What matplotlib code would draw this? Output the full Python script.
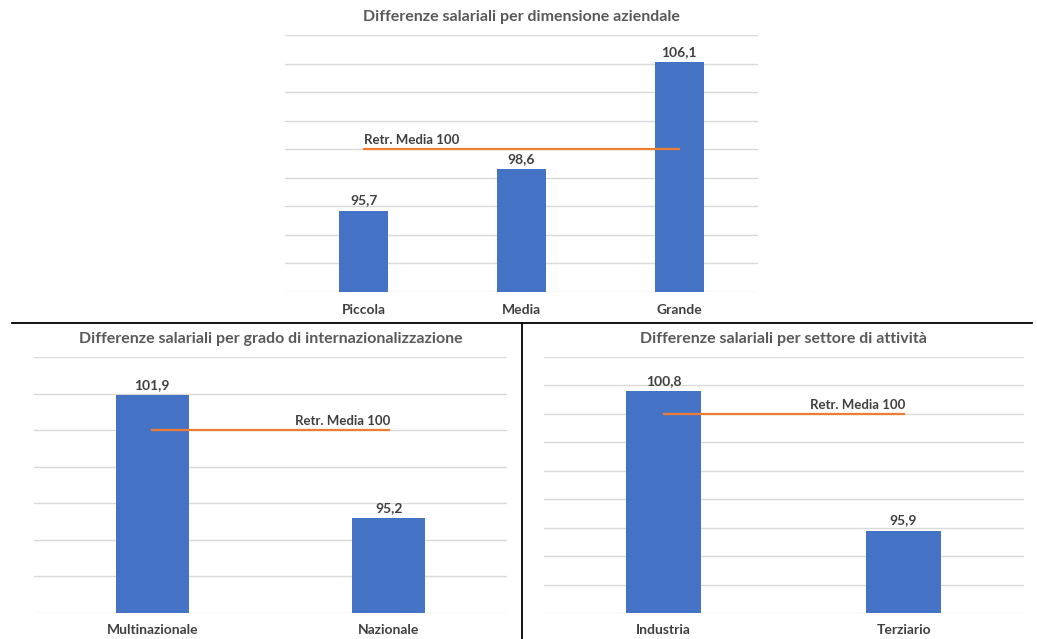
import matplotlib.pyplot as plt
from matplotlib.lines import Line2D
import numpy as np

plt.rcParams['font.family'] = ['Lato', 'DejaVu Sans']

W, H = 1037, 639

# data
dim_title = "Differenze salariali per dimensione aziendale"
dim_cats = ["Piccola", "Media", "Grande"]
dim_vals = [95.7, 98.6, 106.1]

int_title = "Differenze salariali per grado di internazionalizzazione"
int_cats = ["Multinazionale", "Nazionale"]
int_vals = [101.9, 95.2]

set_title = "Differenze salariali per settore di attività"
set_cats = ["Industria", "Terziario"]
set_vals = [100.8, 95.9]

ref_value = 100
ref_label = "Retr. Media 100"

BLUE = "#4472C4"
ORANGE = "#ED7D31"
GRID = "#D9D9D9"
TITLE_C = "#595959"
TEXT_C = "#404040"


def px_axes(fig, left, top, right, bottom):
    return fig.add_axes([left / W, 1 - bottom / H, (right - left) / W, (bottom - top) / H])


def draw(ax, title, cats, vals, ylim, step, label_side, cat_pad):
    x = np.arange(len(cats))
    ax.set_xlim(-0.5, len(cats) - 0.5)
    ax.set_ylim(*ylim)
    ax.set_yticks(np.arange(ylim[0], ylim[1] + 0.01, step))
    ax.yaxis.grid(True, color=GRID, linewidth=1.0)
    ax.set_axisbelow(True)
    for s in ax.spines.values():
        s.set_visible(False)
    ax.tick_params(axis='y', length=0, labelleft=False)
    ax.tick_params(axis='x', length=0, pad=cat_pad)
    ax.set_xticks(x)
    ax.set_xticklabels(cats, fontsize=10, fontweight='bold', color=TEXT_C)

    bars = ax.bar(x, vals, width=0.31, color=BLUE, zorder=2)
    for b, v in zip(bars, vals):
        ax.annotate(f"{v:.1f}".replace(".", ","), (b.get_x() + b.get_width() / 2, v),
                    xytext=(0, 3), textcoords='offset points', ha='center', va='bottom',
                    fontsize=10, fontweight='bold', color=TEXT_C)

    ax.plot(x, [ref_value] * len(x), color=ORANGE, linewidth=1.6, zorder=3)
    if label_side == 'left':
        ax.annotate(ref_label, (x[0], ref_value), xytext=(0, 2), textcoords='offset points',
                    ha='left', va='bottom', fontsize=9.5, fontweight='bold', color=TEXT_C)
    else:
        ax.annotate(ref_label, (x[-1], ref_value), xytext=(1, 2), textcoords='offset points',
                    ha='right', va='bottom', fontsize=9.5, fontweight='bold', color=TEXT_C)

    ax.set_title(title, fontsize=11.5, fontweight='bold', color=TITLE_C, pad=10)


fig = plt.figure(figsize=(W / 100, H / 100), dpi=100)

ax1 = px_axes(fig, 285, 35, 758, 292)
draw(ax1, dim_title, dim_cats, dim_vals, (90, 108), 2, 'left', 9)

ax2 = px_axes(fig, 34, 357, 507, 613)
draw(ax2, int_title, int_cats, int_vals, (90, 104), 2, 'right', 8)

ax3 = px_axes(fig, 543.6, 357, 1023.6, 613)
draw(ax3, set_title, set_cats, set_vals, (93, 102), 1, 'right', 8)

# separator lines
fig.add_artist(Line2D([12 / W, 1032 / W], [1 - 323 / H] * 2, color='black', linewidth=1.3))
fig.add_artist(Line2D([521.5 / W] * 2, [1 - 323 / H, 0], color='black', linewidth=1.3))

fig.savefig("out.png", dpi=100, facecolor='white')
